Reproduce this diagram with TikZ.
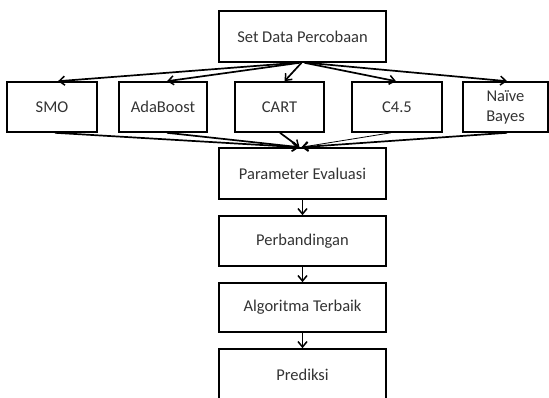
\documentclass[tikz,border=0pt]{standalone}
\usepackage{fontspec}
\setmainfont{Carlito}
\usetikzlibrary{arrows.meta,calc}
\definecolor{txt}{rgb}{0.2,0.2,0.2}
\tikzset{
  box/.style={draw=black, line width=1.6pt, rectangle, inner sep=0pt, text=txt,
    font=\fontsize{16.5}{20}\selectfont, align=center},
  conn/.style={line width=1.7pt, -{Straight Barb[length=5.5pt,width=9pt,line width=1.5pt]}}
}
\begin{document}
\begin{tikzpicture}[x=1pt,y=-1pt]
\useasboundingbox (0,0) rectangle (549,398);
\node[box, minimum width=167pt, minimum height=51pt] (top) at (302.5,36.5) {Set Data Percobaan};
\node[box, minimum width=90pt, minimum height=50pt] (smo) at (52,107) {SMO};
\node[box, minimum width=88pt, minimum height=50pt] (ada) at (163,107) {AdaBoost};
\node[box, minimum width=89pt, minimum height=50pt] (cart) at (279.5,107) {CART};
\node[box, minimum width=90pt, minimum height=50pt] (c45) at (397,107) {C4.5};
\node[box, minimum width=85pt, minimum height=50pt] (nb) at (505.5,107) {Naïve\\Bayes};
\node[box, minimum width=167pt, minimum height=51pt] (par) at (302.5,173.5) {Parameter Evaluasi};
\node[box, minimum width=167pt, minimum height=50pt] (per) at (302.5,241) {Perbandingan};
\node[box, minimum width=167pt, minimum height=49pt] (alg) at (302.5,307.5) {Algoritma Terbaik};
\node[box, minimum width=167pt, minimum height=51pt] (pre) at (302.5,374.5) {Prediksi};

% top fan-out
\draw[conn] ($(top.south)+(-6,0)$) -- ($(smo.north)+(6,0)$);
\draw[conn] ($(top.south)+(-3,0)$) -- ($(ada.north)+(4,0)$);
\draw[conn] ($(top.south)+(-1,0)$) -- ($(cart.north)+(5,0)$);
\draw[conn] ($(top.south)+(2,0)$) -- ($(c45.north)+(-1,0)$);
\draw[conn] ($(top.south)+(5,0)$) -- ($(nb.north)+(1.5,0)$);

% fan-in
\draw[conn] ($(smo.south)+(3,0)$) -- ($(par.north)+(-4,0)$);
\draw[conn] ($(ada.south)+(4,0)$) -- ($(par.north)+(-3,0)$);
\draw[conn] ($(cart.south)+(0.5,0)$) -- ($(par.north)+(-3,0)$);
\draw[conn, line width=0.8pt] ($(c45.south)+(-6,0)$) -- ($(par.north)+(-1,0)$);
\draw[conn] ($(nb.south)+(1.5,0)$) -- ($(par.north)+(-1,0)$);

% chain
\draw[conn] (par) -- (per);
\draw[conn] (per) -- (alg);
\draw[conn] (alg) -- (pre);
\end{tikzpicture}
\end{document}
